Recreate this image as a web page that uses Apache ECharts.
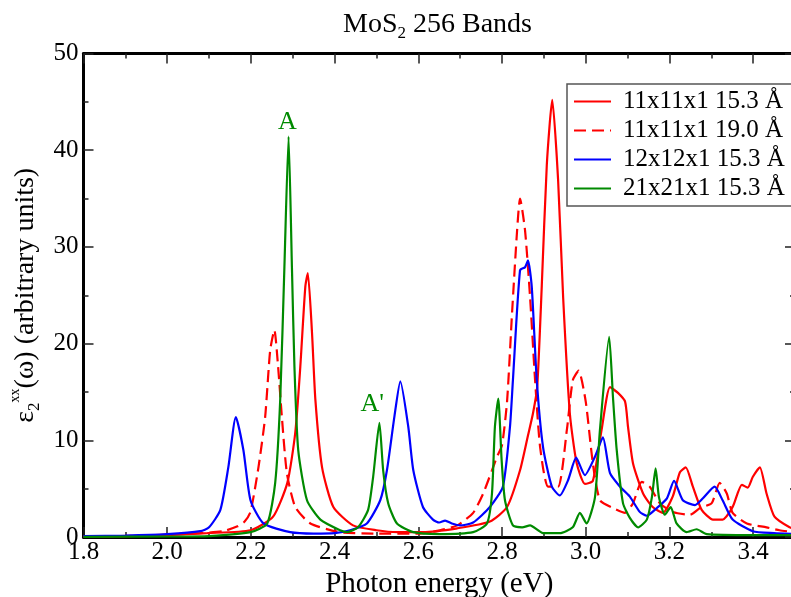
<!DOCTYPE html>
<html>
<head>
<meta charset="utf-8">
<script src="https://cdn.jsdelivr.net/npm/echarts@6/dist/echarts.min.js"></script>
<style>
  html, body { margin: 0; padding: 0; background: #fff; }
  #chart { width: 791px; height: 597px; }
</style>
</head>
<body>
<div id="chart"></div>
<script>
// legend names
const seriesNames = ['11x11x1 15.3 Å', '11x11x1 19.0 Å', '12x12x1 15.3 Å', '21x21x1 15.3 Å']

// [photon energy (eV), eps2]
const red11 = [[1.80,0.05],[1.90,0.1],[2.00,0.2],[2.096,0.4],[2.199,0.7],[2.253,2.1],[2.287,5.6],[2.306,10.8],[2.318,17.6],[2.330,25.9],[2.336,27.3],[2.346,21.1],[2.354,14.2],[2.370,7.2],[2.397,3.1],[2.444,1.2],[2.50,0.7],[2.55,0.5],[2.611,0.5],[2.693,0.9],[2.771,1.6],[2.812,3.1],[2.843,6.9],[2.862,10.5],[2.874,12.8],[2.884,15.5],[2.895,26],[2.907,38.5],[2.920,45.2],[2.934,36.9],[2.946,24.8],[2.962,12.8],[2.978,7.7],[2.998,5.5],[3.017,5.8],[3.038,11.1],[3.058,15.5],[3.077,14.9],[3.094,14.0],[3.101,11.4],[3.113,7.6],[3.137,4.5],[3.160,3.1],[3.184,2.5],[3.208,4.2],[3.225,6.7],[3.239,7.2],[3.256,5.2],[3.277,2.8],[3.304,1.8],[3.327,1.8],[3.351,3.1],[3.373,5.4],[3.387,5.1],[3.399,6.2],[3.416,7.2],[3.432,4.5],[3.451,2.1],[3.487,1.0],[3.50,0.9]]

const red11_19 = [[1.80,0.05],[1.95,0.15],[2.079,0.4],[2.134,0.6],[2.168,1.1],[2.185,1.6],[2.199,2.6],[2.218,7.2],[2.234,12.4],[2.246,19.3],[2.256,21.4],[2.265,17.6],[2.274,12.4],[2.286,6.6],[2.306,3.1],[2.342,1.4],[2.413,0.5],[2.50,0.35],[2.60,0.35],[2.652,0.7],[2.693,1.2],[2.731,2.5],[2.755,4.5],[2.776,6.9],[2.788,8.3],[2.800,9.5],[2.812,14],[2.824,23.2],[2.836,31.7],[2.843,35.0],[2.855,31.7],[2.867,24.8],[2.879,16.2],[2.891,9.3],[2.910,5.2],[2.934,5.2],[2.955,11.1],[2.969,16.2],[2.983,17.2],[3.000,14.0],[3.017,7.6],[3.034,3.8],[3.065,3.0],[3.094,2.5],[3.113,3.5],[3.134,5.7],[3.153,5.2],[3.177,3.5],[3.208,2.6],[3.249,2.3],[3.273,3.0],[3.301,3.5],[3.320,5.6],[3.337,4.5],[3.351,2.5],[3.385,1.4],[3.432,1.0],[3.463,0.7],[3.50,0.5]]

const blue12 = [[1.80,0.1],[1.90,0.15],[2.00,0.3],[2.079,0.6],[2.100,1.0],[2.127,2.8],[2.146,7.2],[2.164,12.4],[2.182,9.0],[2.199,3.8],[2.230,1.4],[2.294,0.5],[2.35,0.35],[2.40,0.4],[2.437,0.7],[2.477,1.4],[2.509,3.8],[2.525,6.9],[2.543,12.5],[2.557,16.1],[2.576,11.4],[2.588,6.9],[2.611,3.1],[2.635,1.8],[2.650,1.5],[2.664,1.7],[2.680,1.4],[2.700,1.2],[2.731,1.5],[2.771,3.1],[2.802,5.2],[2.819,11.4],[2.826,16.2],[2.843,27.6],[2.855,27.9],[2.862,28.6],[2.871,25.9],[2.883,16.2],[2.898,9.3],[2.919,5.2],[2.938,4.3],[2.958,5.9],[2.977,8.2],[2.998,6.4],[3.022,8.3],[3.041,10.3],[3.058,6.6],[3.082,5.2],[3.105,4.2],[3.129,2.6],[3.146,2.2],[3.170,3.0],[3.194,4.0],[3.211,5.8],[3.232,3.8],[3.261,3.3],[3.280,4.0],[3.308,5.2],[3.327,3.8],[3.351,1.8],[3.399,0.6],[3.45,0.4],[3.50,0.3]]

const green21 = [[1.80,0.02],[2.00,0.05],[2.10,0.1],[2.199,0.5],[2.239,1.4],[2.258,5.6],[2.270,14.2],[2.280,27.9],[2.290,41.4],[2.298,27.9],[2.304,17.6],[2.313,9.0],[2.334,3.8],[2.366,1.8],[2.413,0.7],[2.430,0.5],[2.456,1.0],[2.480,2.8],[2.492,6.2],[2.507,11.8],[2.516,6.9],[2.528,3.5],[2.549,1.4],[2.588,0.5],[2.65,0.3],[2.731,0.5],[2.764,1.4],[2.776,4.5],[2.783,11.4],[2.791,14.3],[2.799,8.0],[2.807,3.8],[2.826,1.2],[2.848,1.0],[2.867,1.2],[2.898,0.4],[2.938,0.4],[2.969,1.0],[2.986,2.5],[3.002,1.4],[3.022,4.1],[3.034,11.1],[3.056,20.7],[3.065,14.5],[3.074,9.0],[3.089,3.5],[3.105,2.0],[3.125,1.0],[3.146,1.8],[3.158,4.1],[3.167,7.1],[3.175,4.1],[3.189,2.3],[3.203,3.1],[3.217,1.4],[3.241,0.5],[3.265,0.8],[3.289,0.3],[3.40,0.2],[3.50,0.2]]

// peak labels: [x, y, text]
const peakLabels = [[2.287, 42.9, 'A'], [2.490, 13.75, "A'"]]

const SERIF = '"Liberation Serif", "DejaVu Serif", serif'
const GREEN = '#008a00'

const tick = { show: true, inside: true, length: 10, lineStyle: { color: '#222', width: 1.5 } }
const minor = { show: true, splitNumber: 2, length: 5, lineStyle: { color: '#222', width: 1.5 } }
const frame = { show: true, onZero: false, lineStyle: { color: '#000', width: 3 } }

function xAx(pos, labels) {
  return {
    type: 'value', position: pos, min: 1.8, max: 3.5, interval: 0.2,
    axisLine: frame, axisTick: tick, minorTick: minor, splitLine: { show: false },
    axisLabel: labels ? {
      fontFamily: SERIF, fontSize: 25, color: '#000', margin: 3,
      formatter: v => v > 3.45 ? '' : v.toFixed(1),
    } : { show: false },
  }
}
function yAx(pos, labels) {
  return {
    type: 'value', position: pos, min: 0, max: 50, interval: 10,
    axisLine: frame, axisTick: tick, minorTick: minor, splitLine: { show: false },
    axisLabel: labels ? { fontFamily: SERIF, fontSize: 25, color: '#000', margin: 5 } : { show: false },
  }
}

const chart = echarts.init(document.getElementById('chart'), null, { renderer: 'canvas' })

const xBottom = xAx('bottom', true)
xBottom.name = 'Photon energy (eV)'
xBottom.nameLocation = 'middle'
xBottom.nameGap = 25
xBottom.nameTextStyle = { fontFamily: SERIF, fontSize: 29, color: '#000' }

const yLeft = yAx('left', true)
yLeft.name = '{a|ε}{b|2}{c|xx}{a|(ω) (arbitrary units)}'
yLeft.nameLocation = 'middle'
yLeft.nameGap = 40
yLeft.nameTextStyle = {
  rich: {
    a: { fontFamily: SERIF, fontSize: 28, color: '#000', lineHeight: 34, verticalAlign: 'middle' },
    b: { fontFamily: SERIF, fontSize: 17, color: '#000', lineHeight: 17, verticalAlign: 'bottom' },
    c: { fontFamily: SERIF, fontSize: 14, color: '#000', lineHeight: 14, verticalAlign: 'top' },
  },
}

const lineSeries = (name, data, color, dashed) => ({
  name, type: 'line', data, showSymbol: false, symbol: 'none',
  smooth: 0.2,
  lineStyle: { color, width: 2.2, type: dashed ? [12, 6] : 'solid' },
  itemStyle: { color },
  xAxisIndex: 0, yAxisIndex: 0,
})

const greenSeries = lineSeries(seriesNames[3], green21, GREEN, false)
greenSeries.markPoint = {
  symbol: 'rect', symbolSize: 1, itemStyle: { color: 'rgba(0,0,0,0)' },
  silent: true, animation: false,
  label: { show: true, position: 'inside', fontFamily: SERIF, fontSize: 26, color: GREEN, formatter: p => p.name },
  data: peakLabels.map(d => ({ coord: [d[0], d[1]], name: d[2] })),
}

chart.setOption({
  animation: false,
  backgroundColor: '#fff',
  title: {
    text: '{a|MoS}{b|2}{a| 256 Bands}',
    left: 338, top: 3,
    textStyle: {
      rich: {
        a: { fontFamily: SERIF, fontSize: 28, fontWeight: 'normal', color: '#000', lineHeight: 34, verticalAlign: 'middle' },
        b: { fontFamily: SERIF, fontSize: 17, fontWeight: 'normal', color: '#000', lineHeight: 17, verticalAlign: 'bottom' },
      },
    },
  },
  legend: {
    orient: 'vertical', left: 567, top: 84,
    padding: [5, 60, 5, 6], itemGap: 4, itemWidth: 37, itemHeight: 25,
    backgroundColor: '#fff', borderColor: '#555', borderWidth: 1.5,
    itemStyle: { color: 'rgba(0,0,0,0)', borderWidth: 0, opacity: 0 },
    textStyle: { fontFamily: SERIF, fontSize: 25, color: '#000', padding: [0, 0, 0, 7] },
    data: seriesNames,
  },
  grid: { left: 83.5, top: 53.5, right: -4, bottom: 60, containLabel: false, outerBoundsMode: 'none' },
  xAxis: [xBottom, xAx('top', false)],
  yAxis: [yLeft, yAx('right', false)],
  series: [
    lineSeries(seriesNames[0], red11, '#ff0000', false),
    lineSeries(seriesNames[1], red11_19, '#ff0000', true),
    lineSeries(seriesNames[2], blue12, '#0000ff', false),
    greenSeries,
  ],
})
</script>
</body>
</html>
